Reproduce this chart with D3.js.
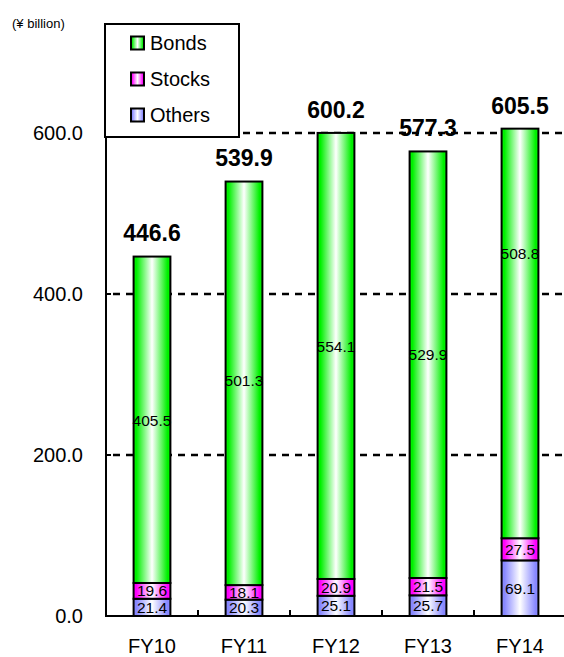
<!DOCTYPE html>
<html><head><meta charset="utf-8">
<script src="https://cdn.jsdelivr.net/npm/d3@7"></script>
<style>body{margin:0;background:#fff}svg{display:block;font-family:"Liberation Sans",Arial,sans-serif}</style>
</head><body>
<script>
const categories = ["FY10","FY11","FY12","FY13","FY14"];
const others = [21.4,20.3,25.1,25.7,69.1];
const stocks = [19.6,18.1,20.9,21.5,27.5];
const bonds  = [405.5,501.3,554.1,529.9,508.8];
const totals = [446.6,539.9,600.2,577.3,605.5];
const yTicks = [0,200,400,600];
const seriesNames = ["Bonds","Stocks","Others"];

// layout: where the bond value labels sit (data units), as placed in the reference
const bondLabelAt = [243,292,335,325,450];

const W=564,H=657;
const svg=d3.select("body").append("svg").attr("width",W).attr("height",H);
const defs=svg.append("defs");
const colors={Bonds:"#00f000",Stocks:"#ff00ff",Others:"#8888ff"};
Object.entries(colors).forEach(([k,c])=>{
  const g=defs.append("linearGradient").attr("id","g"+k).attr("x1","0").attr("x2","1").attr("y1","0").attr("y2","0");
  g.append("stop").attr("offset","0%").attr("stop-color",c);
  g.append("stop").attr("offset","8%").attr("stop-color",c);
  g.append("stop").attr("offset","50%").attr("stop-color","#fff");
  g.append("stop").attr("offset","92%").attr("stop-color",c);
  g.append("stop").attr("offset","100%").attr("stop-color",c);
});

const x=d3.scaleBand().domain(categories).range([106,566]).paddingInner(0.6).paddingOuter(0.3);
const y=d3.scaleLinear().domain([0,700]).range([616,52.5]);

// gridlines
svg.append("g").selectAll("line").data(yTicks.filter(d=>d>0)).join("line")
  .attr("x1",113).attr("x2",566).attr("y1",d=>y(d)).attr("y2",d=>y(d))
  .attr("stroke","#000").attr("stroke-width",2.5).attr("stroke-dasharray","7,6");

// bars
const stacked=categories.map((c,i)=>{
  const segs=[{k:"Others",v:others[i],y0:0,y1:others[i]},
              {k:"Stocks",v:stocks[i],y0:others[i],y1:others[i]+stocks[i]},
              {k:"Bonds",v:bonds[i],y0:others[i]+stocks[i],y1:others[i]+stocks[i]+bonds[i]}];
  return {c,i,segs};
});
const bg=svg.append("g");
stacked.forEach(s=>{
  s.segs.forEach(seg=>{
    bg.append("rect").attr("x",x(s.c)).attr("width",x.bandwidth())
      .attr("y",y(seg.y1)).attr("height",y(seg.y0)-y(seg.y1))
      .attr("fill","url(#g"+seg.k+")").attr("stroke","#000").attr("stroke-width",2);
  });
});
// segment labels
stacked.forEach(s=>{
  s.segs.forEach(seg=>{
    const yy = seg.k==="Bonds" ? y(bondLabelAt[s.i]) : (y(seg.y0)+y(seg.y1))/2;
    bg.append("text").attr("x",x(s.c)+x.bandwidth()/2).attr("y",yy)
      .attr("text-anchor","middle").attr("dominant-baseline","central")
      .attr("font-size",15.5).attr("fill","#000").text(seg.v.toFixed(1));
  });
  bg.append("text").attr("x",x(s.c)+x.bandwidth()/2).attr("y",y(totals[s.i])-15)
    .attr("text-anchor","middle").attr("font-size",23).attr("font-weight","bold")
    .text(totals[s.i].toFixed(1));
});

// axes
svg.append("line").attr("x1",106).attr("x2",106).attr("y1",y(0)).attr("y2",y(700)).attr("stroke","#000").attr("stroke-width",2);
svg.append("line").attr("x1",105).attr("x2",566).attr("y1",y(0)).attr("y2",y(0)).attr("stroke","#000").attr("stroke-width",2);
svg.append("g").selectAll("line").data(yTicks).join("line")
  .attr("x1",106).attr("x2",111).attr("y1",d=>y(d)).attr("y2",d=>y(d)).attr("stroke","#000").attr("stroke-width",2);
svg.append("g").selectAll("text").data(yTicks).join("text")
  .attr("x",83).attr("y",d=>y(d)).attr("text-anchor","end").attr("dominant-baseline","central")
  .attr("font-size",20).text(d=>d.toFixed(1));
const bounds=categories.slice(1).map(c=>x(c)-x.step()*x.paddingInner()/2);
svg.append("g").selectAll("line").data(bounds).join("line")
  .attr("x1",d=>d).attr("x2",d=>d).attr("y1",y(0)).attr("y2",y(0)-6).attr("stroke","#000").attr("stroke-width",2);
svg.append("g").selectAll("text").data(categories).join("text")
  .attr("x",d=>x(d)+x.bandwidth()/2).attr("y",646).attr("text-anchor","middle").attr("dominant-baseline","central")
  .attr("font-size",20).text(d=>d);

// unit
svg.append("text").attr("x",12).attr("y",23).attr("dominant-baseline","central").attr("font-size",13).text("(¥ billion)");

// legend
const lg=svg.append("g");
lg.append("rect").attr("x",105).attr("y",24).attr("width",134).attr("height",113).attr("fill","#fff").attr("stroke","#000").attr("stroke-width",2);
seriesNames.forEach((n,i)=>{
  const cy=43+i*36;
  lg.append("rect").attr("x",131).attr("y",cy-6.5).attr("width",13).attr("height",13)
    .attr("fill","url(#g"+n+")").attr("stroke","#000").attr("stroke-width",2);
  lg.append("text").attr("x",150).attr("y",cy).attr("dominant-baseline","central").attr("font-size",20).text(n);
});
</script>
</body></html>
